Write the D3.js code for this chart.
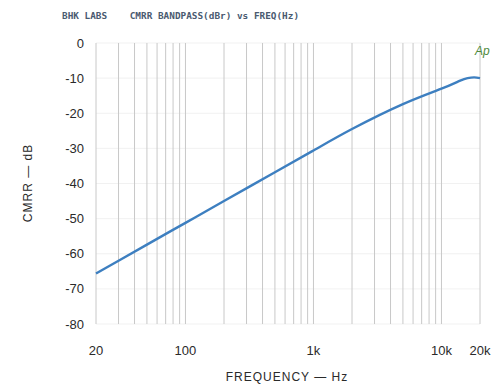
<!DOCTYPE html>
<html><head><meta charset="utf-8">
<script src="https://cdn.jsdelivr.net/npm/d3@7"></script>
<style>body{margin:0;background:#fff}svg{display:block}</style>
</head><body><svg id="c" width="501" height="384"></svg>
<script>
const titleText = "BHK LABS    CMRR BANDPASS(dBr) vs FREQ(Hz)";
const freqs = [20, 30, 50, 100, 200, 500, 1000, 2000, 5000, 10000, 14000, 16000, 18000, 20000];
const cmrr  = [-65.6, -62.0, -57.4, -51.2, -45.0, -36.8, -30.6, -24.5, -17.4, -13.0, -10.7, -10.0, -9.8, -10.0];
const yTicks = [0, -10, -20, -30, -40, -50, -60, -70, -80];
const xTickVals = [20, 100, 1000, 10000, 20000];
const xTickLabels = ["20", "100", "1k", "10k", "20k"];
const gridFreqs = [20,30,40,50,60,70,80,90,100,200,300,400,500,600,700,800,900,1000,2000,3000,4000,5000,6000,7000,8000,9000,10000,20000];

const svg = d3.select("#c");
const x = d3.scaleLog().domain([20, 20000]).range([96, 480]);
const y = d3.scaleLinear().domain([-80, 0]).range([324, 43]);

svg.append("g").selectAll("line").data(yTicks).join("line")
  .attr("x1", x(20)).attr("x2", x(20000))
  .attr("y1", d => y(d)).attr("y2", d => y(d))
  .attr("stroke", "#eeeeee").attr("stroke-width", 0.8);
svg.append("g").selectAll("line").data(gridFreqs).join("line")
  .attr("x1", d => x(d)).attr("x2", d => x(d))
  .attr("y1", y(0)).attr("y2", y(-80))
  .attr("stroke", "#c8c8c8").attr("stroke-width", 1);

svg.append("g").selectAll("text").data(yTicks).join("text")
  .attr("x", 84).attr("y", d => y(d)).attr("dy", "0.35em")
  .attr("text-anchor", "end")
  .attr("font-family", "Liberation Sans, Arial, sans-serif").attr("font-size", 13)
  .attr("fill", "#2a2a2a")
  .text(d => d === 0 ? "0" : "-" + Math.abs(d));

svg.append("g").selectAll("text").data(xTickVals).join("text")
  .attr("x", d => x(d)).attr("y", 355)
  .attr("text-anchor", "middle")
  .attr("font-family", "Liberation Sans, Arial, sans-serif").attr("font-size", 13)
  .attr("fill", "#2a2a2a")
  .text((d, i) => xTickLabels[i]);

svg.append("text").attr("x", 287).attr("y", 381).attr("text-anchor", "middle")
  .attr("font-family", "Liberation Sans, Arial, sans-serif").attr("font-size", 12)
  .attr("letter-spacing", 1).attr("fill", "#2a2a2a").text("FREQUENCY — Hz");
svg.append("text").attr("transform", "translate(32,183) rotate(-90)").attr("text-anchor", "middle")
  .attr("font-family", "Liberation Sans, Arial, sans-serif").attr("font-size", 12)
  .attr("letter-spacing", 1).attr("fill", "#2a2a2a").text("CMRR — dB");

svg.append("text").attr("x", 62).attr("y", 19)
  .attr("font-family", "DejaVu Sans Mono, monospace").attr("font-size", 9.4)
  .attr("font-weight", "bold")
  .attr("fill", "#4a5a70").style("white-space", "pre")
  .text(titleText);

svg.append("text").attr("x", 475).attr("y", 55)
  .attr("font-family", "Liberation Sans, Arial, sans-serif").attr("font-size", 12)
  .attr("font-style", "italic").attr("fill", "#4f8a3c").text("Ap");

const line = d3.line().x((d, i) => x(freqs[i])).y(d => y(d)).curve(d3.curveNatural);
svg.append("path").datum(cmrr).attr("d", line)
  .attr("fill", "none").attr("stroke", "#3d7fc0").attr("stroke-width", 2.4);
</script></body></html>
